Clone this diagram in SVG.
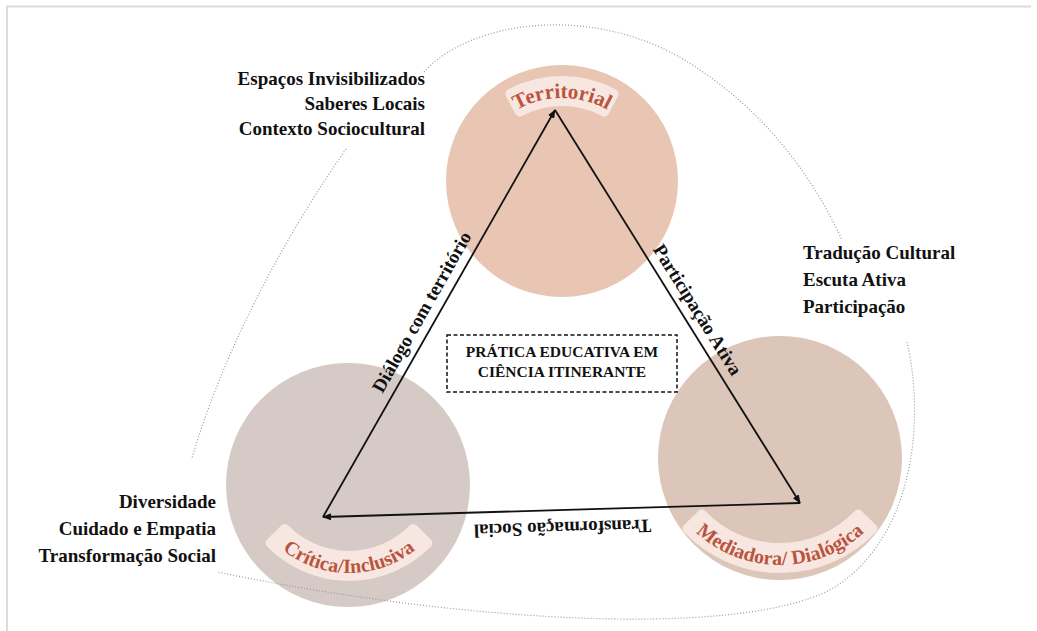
<svg xmlns="http://www.w3.org/2000/svg" width="1037" height="631" viewBox="0 0 1037 631">
<style>
.lbl{font-family:"Liberation Serif","Times New Roman",serif;font-weight:bold;font-size:19px;fill:#111}
.edge{font-family:"Liberation Serif","Times New Roman",serif;font-weight:bold;font-size:19px;fill:#111;text-anchor:middle}
.pill{fill:#f8e7e0;stroke:#f8e7e0;stroke-width:10;stroke-linejoin:round}
.ptxt{font-family:"Liberation Serif","Times New Roman",serif;font-weight:bold;font-size:20px;fill:#b9553f}
.ctr{font-family:"Liberation Serif","Times New Roman",serif;font-weight:bold;font-size:15.5px;fill:#111;text-anchor:middle}
.arr{stroke:#111;stroke-width:1.8;fill:none;marker-end:url(#ah)}
.dot{fill:none;stroke:#9a9a9a;stroke-width:1.2;stroke-dasharray:1 2}
.frame{fill:none;stroke:#dcdcdc;stroke-width:2}
</style>
<defs>
<marker id="ah" markerUnits="userSpaceOnUse" markerWidth="9" markerHeight="7" refX="8" refY="3.5" orient="auto">
<path d="M0,0 L9,3.5 L0,7 z" fill="#111"/>
</marker>
<path id="tpTer" d="M469 191 A93 93 0 0 1 655 191"/>
<path id="tpCri" d="M242 466 A107 107 0 0 0 456 466"/>
<path id="tpMed" d="M655 440 A125 125 0 0 0 905 440"/>
</defs>
<rect x="0" y="0" width="1037" height="631" fill="#ffffff"/>
<path class="frame" d="M7 631 V6.5 H1031"/>

<g id="node-territorial">
<circle cx="562" cy="181" r="116" fill="#e9c6b3"/>
<path class="pill" d="M510.4 93.9 A110 110 0 0 1 613.6 93.9 L604.3 111.5 A90 90 0 0 0 519.7 111.5 Z"/>
<text class="ptxt" style="font-size:21px"><textPath href="#tpTer" startOffset="50%" text-anchor="middle">Territorial</textPath></text>
</g>
<g id="node-critica">
<circle cx="348" cy="485" r="122" fill="#d5cac5"/>
<path class="pill" d="M270.6 543.1 A110 110 0 0 0 427.4 543.1 L413.2 529.1 A90 90 0 0 1 284.8 529.1 Z"/>
<text class="ptxt"><textPath href="#tpCri" startOffset="50%" text-anchor="middle">Crítica/Inclusiva</textPath></text>
</g>
<g id="node-mediadora">
<circle cx="780" cy="458" r="122" fill="#dcc5b9"/>
<path class="pill" d="M687.5 528.5 A128 128 0 0 0 872.5 528.5 L858.1 514.6 A108 108 0 0 1 701.9 514.6 Z"/>
<text class="ptxt"><textPath href="#tpMed" startOffset="50%" text-anchor="middle">Mediadora/ Dialógica</textPath></text>
</g>

<g id="outline">
<path class="dot" d="M424 72 C470 20 600 0 700 70 C760 110 810 170 842 240"/>
<path class="dot" d="M907 342 C925 420 915 540 830 590 C730 640 450 620 217 572"/>
<path class="dot" d="M346 149 C300 215 230 330 192 458"/>
</g>

<g id="node-center">
<rect x="447" y="335" width="230" height="57" fill="none" stroke="#111" stroke-width="1.5" stroke-dasharray="4 2.5"/>
<text class="ctr" x="562" y="357">PRÁTICA EDUCATIVA EM</text>
<text class="ctr" x="562" y="377">CIÊNCIA ITINERANTE</text>
</g>

<g id="connectors">
<line class="arr" x1="323" y1="517" x2="555" y2="110"/>
<line class="arr" x1="555" y1="110" x2="800" y2="503"/>
<line class="arr" x1="800" y1="503" x2="323" y2="517"/>
<text class="edge" transform="translate(427.2 315.2) rotate(-60.4)">Diálogo com território</text>
<text class="edge" transform="translate(692.2 313.1) rotate(58.06)">Participação Ativa</text>
<text class="edge" transform="translate(562.3 522) rotate(178.32)">Transformação Social</text>
</g>

<g id="labels-territorial">
<text class="lbl" x="425" y="85" text-anchor="end">Espaços Invisibilizados</text>
<text class="lbl" x="425" y="110" text-anchor="end">Saberes Locais</text>
<text class="lbl" x="425" y="135" text-anchor="end">Contexto Sociocultural</text>
</g>
<g id="labels-mediadora">
<text class="lbl" x="803" y="259">Tradução Cultural</text>
<text class="lbl" x="803" y="286">Escuta Ativa</text>
<text class="lbl" x="803" y="313">Participação</text>
</g>
<g id="labels-critica">
<text class="lbl" x="216" y="508" text-anchor="end">Diversidade</text>
<text class="lbl" x="216" y="535" text-anchor="end">Cuidado e Empatia</text>
<text class="lbl" x="216" y="562" text-anchor="end">Transformação Social</text>
</g>
</svg>
